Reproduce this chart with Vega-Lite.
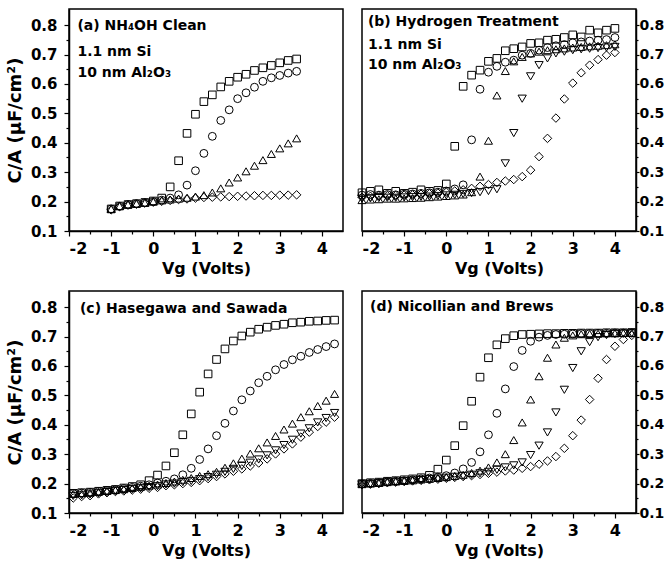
{
  "$schema": "https://vega.github.io/schema/vega-lite/v6.json",
  "padding": {"left": 5, "top": 8, "right": 0, "bottom": 0},
  "background": "white",
  "config": {
    "view": {"stroke": "black", "strokeWidth": 1.5},
    "axis": {"domainColor": "black", "domainWidth": 1.5, "tickColor": "black", "tickWidth": 1.2, "labelColor": "black", "titleColor": "black", "labelFont": "DejaVu Sans", "labelFontWeight": "bold", "labelFontSize": 16, "titleFont": "DejaVu Sans", "titleFontWeight": "bold", "titleFontSize": 16, "grid": false, "labelPadding": 4, "labelOverlap": false, "tickCount": 100},
    "text": {"font": "DejaVu Sans", "fontWeight": "bold", "fontSize": 14, "color": "black"}
  },
  "datasets": {
    "notes": [
      {"p": "a", "x": -1.8, "y": 0.797, "t": "(a)  NH₄OH Clean"},
      {"p": "a", "x": -1.8, "y": 0.708, "t": "1.1 nm Si"},
      {"p": "a", "x": -1.8, "y": 0.636, "t": "10 nm Al₂O₃"},
      {"p": "b", "x": -1.86, "y": 0.81, "t": "(b)  Hydrogen Treatment"},
      {"p": "b", "x": -1.86, "y": 0.732, "t": "1.1 nm Si"},
      {"p": "b", "x": -1.86, "y": 0.663, "t": "10 nm Al₂O₃"},
      {"p": "c", "x": -1.74, "y": 0.795, "t": "(c) Hasegawa and Sawada"},
      {"p": "d", "x": -1.81, "y": 0.802, "t": "(d) Nicollian and Brews"}
    ],
    "a": [
      {"s":"sq","x":-1,"y":0.175},{"s":"sq","x":-0.8,"y":0.185},{"s":"sq","x":-0.6,"y":0.19},{"s":"sq","x":-0.4,"y":0.193},{"s":"sq","x":-0.2,"y":0.197},{"s":"sq","x":0,"y":0.202},{"s":"sq","x":0.2,"y":0.212},{"s":"sq","x":0.4,"y":0.25},{"s":"sq","x":0.6,"y":0.339},{"s":"sq","x":0.8,"y":0.432},{"s":"sq","x":1,"y":0.497},{"s":"sq","x":1.2,"y":0.54},{"s":"sq","x":1.4,"y":0.563},{"s":"sq","x":1.6,"y":0.59},{"s":"sq","x":1.8,"y":0.609},{"s":"sq","x":2,"y":0.623},{"s":"sq","x":2.2,"y":0.633},{"s":"sq","x":2.4,"y":0.646},{"s":"sq","x":2.6,"y":0.655},{"s":"sq","x":2.8,"y":0.663},{"s":"sq","x":3,"y":0.672},{"s":"sq","x":3.2,"y":0.68},{"s":"sq","x":3.4,"y":0.685},
      {"s":"ci","x":-1,"y":0.175},{"s":"ci","x":-0.8,"y":0.184},{"s":"ci","x":-0.6,"y":0.19},{"s":"ci","x":-0.4,"y":0.193},{"s":"ci","x":-0.2,"y":0.196},{"s":"ci","x":0,"y":0.2},{"s":"ci","x":0.2,"y":0.205},{"s":"ci","x":0.4,"y":0.212},{"s":"ci","x":0.6,"y":0.223},{"s":"ci","x":0.8,"y":0.256},{"s":"ci","x":1,"y":0.305},{"s":"ci","x":1.2,"y":0.364},{"s":"ci","x":1.4,"y":0.422},{"s":"ci","x":1.6,"y":0.476},{"s":"ci","x":1.8,"y":0.512},{"s":"ci","x":2,"y":0.55},{"s":"ci","x":2.2,"y":0.57},{"s":"ci","x":2.4,"y":0.589},{"s":"ci","x":2.6,"y":0.609},{"s":"ci","x":2.8,"y":0.621},{"s":"ci","x":3,"y":0.629},{"s":"ci","x":3.2,"y":0.637},{"s":"ci","x":3.4,"y":0.643},
      {"s":"tu","x":-1,"y":0.175},{"s":"tu","x":-0.8,"y":0.185},{"s":"tu","x":-0.6,"y":0.19},{"s":"tu","x":-0.4,"y":0.193},{"s":"tu","x":-0.2,"y":0.196},{"s":"tu","x":0,"y":0.2},{"s":"tu","x":0.2,"y":0.204},{"s":"tu","x":0.4,"y":0.207},{"s":"tu","x":0.6,"y":0.21},{"s":"tu","x":0.8,"y":0.213},{"s":"tu","x":1,"y":0.217},{"s":"tu","x":1.2,"y":0.222},{"s":"tu","x":1.4,"y":0.231},{"s":"tu","x":1.6,"y":0.245},{"s":"tu","x":1.8,"y":0.265},{"s":"tu","x":2,"y":0.282},{"s":"tu","x":2.2,"y":0.303},{"s":"tu","x":2.4,"y":0.322},{"s":"tu","x":2.6,"y":0.341},{"s":"tu","x":2.8,"y":0.362},{"s":"tu","x":3,"y":0.381},{"s":"tu","x":3.2,"y":0.398},{"s":"tu","x":3.4,"y":0.415},
      {"s":"di","x":-1,"y":0.172},{"s":"di","x":-0.8,"y":0.183},{"s":"di","x":-0.6,"y":0.188},{"s":"di","x":-0.4,"y":0.191},{"s":"di","x":-0.2,"y":0.195},{"s":"di","x":0,"y":0.198},{"s":"di","x":0.2,"y":0.201},{"s":"di","x":0.4,"y":0.204},{"s":"di","x":0.6,"y":0.207},{"s":"di","x":0.8,"y":0.209},{"s":"di","x":1,"y":0.212},{"s":"di","x":1.2,"y":0.214},{"s":"di","x":1.4,"y":0.215},{"s":"di","x":1.6,"y":0.216},{"s":"di","x":1.8,"y":0.217},{"s":"di","x":2,"y":0.218},{"s":"di","x":2.2,"y":0.219},{"s":"di","x":2.4,"y":0.22},{"s":"di","x":2.6,"y":0.221},{"s":"di","x":2.8,"y":0.221},{"s":"di","x":3,"y":0.222},{"s":"di","x":3.2,"y":0.222},{"s":"di","x":3.4,"y":0.223}
    ],
    "b": [
      {"s":"sq","x":-2,"y":0.23},{"s":"sq","x":-1.8,"y":0.235},{"s":"sq","x":-1.6,"y":0.24},{"s":"sq","x":-1.4,"y":0.228},{"s":"sq","x":-1.2,"y":0.235},{"s":"sq","x":-1,"y":0.228},{"s":"sq","x":-0.8,"y":0.232},{"s":"sq","x":-0.6,"y":0.24},{"s":"sq","x":-0.4,"y":0.235},{"s":"sq","x":-0.2,"y":0.238},{"s":"sq","x":0,"y":0.26},{"s":"sq","x":0.2,"y":0.388},{"s":"sq","x":0.4,"y":0.592},{"s":"sq","x":0.6,"y":0.63},{"s":"sq","x":0.8,"y":0.647},{"s":"sq","x":1,"y":0.677},{"s":"sq","x":1.2,"y":0.687},{"s":"sq","x":1.4,"y":0.713},{"s":"sq","x":1.6,"y":0.72},{"s":"sq","x":1.8,"y":0.726},{"s":"sq","x":2,"y":0.738},{"s":"sq","x":2.2,"y":0.74},{"s":"sq","x":2.4,"y":0.749},{"s":"sq","x":2.6,"y":0.752},{"s":"sq","x":2.8,"y":0.758},{"s":"sq","x":3,"y":0.767},{"s":"sq","x":3.2,"y":0.76},{"s":"sq","x":3.4,"y":0.783},{"s":"sq","x":3.6,"y":0.774},{"s":"sq","x":3.8,"y":0.783},{"s":"sq","x":4,"y":0.789},
      {"s":"ci","x":-2,"y":0.222},{"s":"ci","x":-1.8,"y":0.224},{"s":"ci","x":-1.6,"y":0.222},{"s":"ci","x":-1.4,"y":0.224},{"s":"ci","x":-1.2,"y":0.223},{"s":"ci","x":-1,"y":0.225},{"s":"ci","x":-0.8,"y":0.226},{"s":"ci","x":-0.6,"y":0.228},{"s":"ci","x":-0.4,"y":0.23},{"s":"ci","x":-0.2,"y":0.232},{"s":"ci","x":0,"y":0.236},{"s":"ci","x":0.2,"y":0.243},{"s":"ci","x":0.4,"y":0.257},{"s":"ci","x":0.6,"y":0.41},{"s":"ci","x":0.8,"y":0.582},{"s":"ci","x":1,"y":0.64},{"s":"ci","x":1.2,"y":0.66},{"s":"ci","x":1.4,"y":0.674},{"s":"ci","x":1.6,"y":0.681},{"s":"ci","x":1.8,"y":0.698},{"s":"ci","x":2,"y":0.704},{"s":"ci","x":2.2,"y":0.715},{"s":"ci","x":2.4,"y":0.724},{"s":"ci","x":2.6,"y":0.73},{"s":"ci","x":2.8,"y":0.734},{"s":"ci","x":3,"y":0.74},{"s":"ci","x":3.2,"y":0.743},{"s":"ci","x":3.4,"y":0.746},{"s":"ci","x":3.6,"y":0.749},{"s":"ci","x":3.8,"y":0.751},{"s":"ci","x":4,"y":0.758},
      {"s":"tu","x":-2,"y":0.205},{"s":"tu","x":-1.8,"y":0.207},{"s":"tu","x":-1.6,"y":0.208},{"s":"tu","x":-1.4,"y":0.21},{"s":"tu","x":-1.2,"y":0.21},{"s":"tu","x":-1,"y":0.211},{"s":"tu","x":-0.8,"y":0.212},{"s":"tu","x":-0.6,"y":0.213},{"s":"tu","x":-0.4,"y":0.215},{"s":"tu","x":-0.2,"y":0.217},{"s":"tu","x":0,"y":0.219},{"s":"tu","x":0.2,"y":0.221},{"s":"tu","x":0.4,"y":0.224},{"s":"tu","x":0.6,"y":0.232},{"s":"tu","x":0.8,"y":0.285},{"s":"tu","x":1,"y":0.407},{"s":"tu","x":1.2,"y":0.561},{"s":"tu","x":1.4,"y":0.644},{"s":"tu","x":1.6,"y":0.677},{"s":"tu","x":1.8,"y":0.692},{"s":"tu","x":2,"y":0.704},{"s":"tu","x":2.2,"y":0.71},{"s":"tu","x":2.4,"y":0.715},{"s":"tu","x":2.6,"y":0.718},{"s":"tu","x":2.8,"y":0.721},{"s":"tu","x":3,"y":0.724},{"s":"tu","x":3.2,"y":0.726},{"s":"tu","x":3.4,"y":0.728},{"s":"tu","x":3.6,"y":0.73},{"s":"tu","x":3.8,"y":0.732},{"s":"tu","x":4,"y":0.735},
      {"s":"td","x":-2,"y":0.21},{"s":"td","x":-1.8,"y":0.211},{"s":"td","x":-1.6,"y":0.212},{"s":"td","x":-1.4,"y":0.213},{"s":"td","x":-1.2,"y":0.213},{"s":"td","x":-1,"y":0.214},{"s":"td","x":-0.8,"y":0.215},{"s":"td","x":-0.6,"y":0.216},{"s":"td","x":-0.4,"y":0.217},{"s":"td","x":-0.2,"y":0.219},{"s":"td","x":0,"y":0.221},{"s":"td","x":0.2,"y":0.223},{"s":"td","x":0.4,"y":0.226},{"s":"td","x":0.6,"y":0.229},{"s":"td","x":0.8,"y":0.232},{"s":"td","x":1,"y":0.236},{"s":"td","x":1.2,"y":0.242},{"s":"td","x":1.4,"y":0.33},{"s":"td","x":1.6,"y":0.433},{"s":"td","x":1.8,"y":0.55},{"s":"td","x":2,"y":0.626},{"s":"td","x":2.2,"y":0.664},{"s":"td","x":2.4,"y":0.687},{"s":"td","x":2.6,"y":0.704},{"s":"td","x":2.8,"y":0.71},{"s":"td","x":3,"y":0.715},{"s":"td","x":3.2,"y":0.718},{"s":"td","x":3.4,"y":0.72},{"s":"td","x":3.6,"y":0.722},{"s":"td","x":3.8,"y":0.724},{"s":"td","x":4,"y":0.726},
      {"s":"di","x":-2,"y":0.215},{"s":"di","x":-1.8,"y":0.218},{"s":"di","x":-1.6,"y":0.22},{"s":"di","x":-1.4,"y":0.22},{"s":"di","x":-1.2,"y":0.221},{"s":"di","x":-1,"y":0.222},{"s":"di","x":-0.8,"y":0.223},{"s":"di","x":-0.6,"y":0.225},{"s":"di","x":-0.4,"y":0.227},{"s":"di","x":-0.2,"y":0.229},{"s":"di","x":0,"y":0.232},{"s":"di","x":0.2,"y":0.236},{"s":"di","x":0.4,"y":0.24},{"s":"di","x":0.6,"y":0.245},{"s":"di","x":0.8,"y":0.252},{"s":"di","x":1,"y":0.258},{"s":"di","x":1.2,"y":0.265},{"s":"di","x":1.4,"y":0.27},{"s":"di","x":1.6,"y":0.275},{"s":"di","x":1.8,"y":0.285},{"s":"di","x":2,"y":0.307},{"s":"di","x":2.2,"y":0.353},{"s":"di","x":2.4,"y":0.415},{"s":"di","x":2.6,"y":0.484},{"s":"di","x":2.8,"y":0.549},{"s":"di","x":3,"y":0.603},{"s":"di","x":3.2,"y":0.638},{"s":"di","x":3.4,"y":0.664},{"s":"di","x":3.6,"y":0.683},{"s":"di","x":3.8,"y":0.698},{"s":"di","x":4,"y":0.707}
    ],
    "c": [
      {"s":"sq","x":-1.9,"y":0.167},{"s":"sq","x":-1.7,"y":0.169},{"s":"sq","x":-1.5,"y":0.171},{"s":"sq","x":-1.3,"y":0.174},{"s":"sq","x":-1.1,"y":0.177},{"s":"sq","x":-0.9,"y":0.18},{"s":"sq","x":-0.7,"y":0.185},{"s":"sq","x":-0.5,"y":0.19},{"s":"sq","x":-0.3,"y":0.196},{"s":"sq","x":-0.1,"y":0.21},{"s":"sq","x":0.1,"y":0.229},{"s":"sq","x":0.3,"y":0.26},{"s":"sq","x":0.5,"y":0.305},{"s":"sq","x":0.7,"y":0.366},{"s":"sq","x":0.9,"y":0.437},{"s":"sq","x":1.1,"y":0.511},{"s":"sq","x":1.3,"y":0.573},{"s":"sq","x":1.5,"y":0.622},{"s":"sq","x":1.7,"y":0.658},{"s":"sq","x":1.9,"y":0.685},{"s":"sq","x":2.1,"y":0.702},{"s":"sq","x":2.3,"y":0.715},{"s":"sq","x":2.5,"y":0.725},{"s":"sq","x":2.7,"y":0.732},{"s":"sq","x":2.9,"y":0.738},{"s":"sq","x":3.1,"y":0.742},{"s":"sq","x":3.3,"y":0.747},{"s":"sq","x":3.5,"y":0.749},{"s":"sq","x":3.7,"y":0.752},{"s":"sq","x":3.9,"y":0.753},{"s":"sq","x":4.1,"y":0.755},{"s":"sq","x":4.3,"y":0.756},
      {"s":"ci","x":-1.9,"y":0.166},{"s":"ci","x":-1.7,"y":0.168},{"s":"ci","x":-1.5,"y":0.17},{"s":"ci","x":-1.3,"y":0.173},{"s":"ci","x":-1.1,"y":0.176},{"s":"ci","x":-0.9,"y":0.179},{"s":"ci","x":-0.7,"y":0.183},{"s":"ci","x":-0.5,"y":0.187},{"s":"ci","x":-0.3,"y":0.191},{"s":"ci","x":-0.1,"y":0.196},{"s":"ci","x":0.1,"y":0.202},{"s":"ci","x":0.3,"y":0.208},{"s":"ci","x":0.5,"y":0.216},{"s":"ci","x":0.7,"y":0.23},{"s":"ci","x":0.9,"y":0.252},{"s":"ci","x":1.1,"y":0.282},{"s":"ci","x":1.3,"y":0.318},{"s":"ci","x":1.5,"y":0.363},{"s":"ci","x":1.7,"y":0.405},{"s":"ci","x":1.9,"y":0.447},{"s":"ci","x":2.1,"y":0.485},{"s":"ci","x":2.3,"y":0.515},{"s":"ci","x":2.5,"y":0.543},{"s":"ci","x":2.7,"y":0.565},{"s":"ci","x":2.9,"y":0.587},{"s":"ci","x":3.1,"y":0.605},{"s":"ci","x":3.3,"y":0.621},{"s":"ci","x":3.5,"y":0.633},{"s":"ci","x":3.7,"y":0.646},{"s":"ci","x":3.9,"y":0.656},{"s":"ci","x":4.1,"y":0.666},{"s":"ci","x":4.3,"y":0.675},
      {"s":"tu","x":-1.9,"y":0.165},{"s":"tu","x":-1.7,"y":0.167},{"s":"tu","x":-1.5,"y":0.169},{"s":"tu","x":-1.3,"y":0.172},{"s":"tu","x":-1.1,"y":0.175},{"s":"tu","x":-0.9,"y":0.178},{"s":"tu","x":-0.7,"y":0.181},{"s":"tu","x":-0.5,"y":0.185},{"s":"tu","x":-0.3,"y":0.189},{"s":"tu","x":-0.1,"y":0.193},{"s":"tu","x":0.1,"y":0.197},{"s":"tu","x":0.3,"y":0.202},{"s":"tu","x":0.5,"y":0.207},{"s":"tu","x":0.7,"y":0.213},{"s":"tu","x":0.9,"y":0.219},{"s":"tu","x":1.1,"y":0.226},{"s":"tu","x":1.3,"y":0.232},{"s":"tu","x":1.5,"y":0.24},{"s":"tu","x":1.7,"y":0.254},{"s":"tu","x":1.9,"y":0.269},{"s":"tu","x":2.1,"y":0.285},{"s":"tu","x":2.3,"y":0.302},{"s":"tu","x":2.5,"y":0.32},{"s":"tu","x":2.7,"y":0.34},{"s":"tu","x":2.9,"y":0.362},{"s":"tu","x":3.1,"y":0.384},{"s":"tu","x":3.3,"y":0.404},{"s":"tu","x":3.5,"y":0.426},{"s":"tu","x":3.7,"y":0.446},{"s":"tu","x":3.9,"y":0.464},{"s":"tu","x":4.1,"y":0.482},{"s":"tu","x":4.3,"y":0.505},
      {"s":"td","x":-1.9,"y":0.158},{"s":"td","x":-1.7,"y":0.16},{"s":"td","x":-1.5,"y":0.163},{"s":"td","x":-1.3,"y":0.167},{"s":"td","x":-1.1,"y":0.171},{"s":"td","x":-0.9,"y":0.175},{"s":"td","x":-0.7,"y":0.178},{"s":"td","x":-0.5,"y":0.181},{"s":"td","x":-0.3,"y":0.184},{"s":"td","x":-0.1,"y":0.188},{"s":"td","x":0.1,"y":0.191},{"s":"td","x":0.3,"y":0.197},{"s":"td","x":0.5,"y":0.2},{"s":"td","x":0.7,"y":0.205},{"s":"td","x":0.9,"y":0.209},{"s":"td","x":1.1,"y":0.215},{"s":"td","x":1.3,"y":0.222},{"s":"td","x":1.5,"y":0.23},{"s":"td","x":1.7,"y":0.24},{"s":"td","x":1.9,"y":0.25},{"s":"td","x":2.1,"y":0.26},{"s":"td","x":2.3,"y":0.271},{"s":"td","x":2.5,"y":0.282},{"s":"td","x":2.7,"y":0.296},{"s":"td","x":2.9,"y":0.313},{"s":"td","x":3.1,"y":0.331},{"s":"td","x":3.3,"y":0.349},{"s":"td","x":3.5,"y":0.37},{"s":"td","x":3.7,"y":0.388},{"s":"td","x":3.9,"y":0.408},{"s":"td","x":4.1,"y":0.423},{"s":"td","x":4.3,"y":0.44},
      {"s":"di","x":-1.9,"y":0.151},{"s":"di","x":-1.7,"y":0.156},{"s":"di","x":-1.5,"y":0.159},{"s":"di","x":-1.3,"y":0.165},{"s":"di","x":-1.1,"y":0.169},{"s":"di","x":-0.9,"y":0.173},{"s":"di","x":-0.7,"y":0.175},{"s":"di","x":-0.5,"y":0.178},{"s":"di","x":-0.3,"y":0.181},{"s":"di","x":-0.1,"y":0.184},{"s":"di","x":0.1,"y":0.187},{"s":"di","x":0.3,"y":0.193},{"s":"di","x":0.5,"y":0.196},{"s":"di","x":0.7,"y":0.2},{"s":"di","x":0.9,"y":0.204},{"s":"di","x":1.1,"y":0.21},{"s":"di","x":1.3,"y":0.217},{"s":"di","x":1.5,"y":0.224},{"s":"di","x":1.7,"y":0.233},{"s":"di","x":1.9,"y":0.242},{"s":"di","x":2.1,"y":0.25},{"s":"di","x":2.3,"y":0.26},{"s":"di","x":2.5,"y":0.27},{"s":"di","x":2.7,"y":0.284},{"s":"di","x":2.9,"y":0.301},{"s":"di","x":3.1,"y":0.318},{"s":"di","x":3.3,"y":0.335},{"s":"di","x":3.5,"y":0.358},{"s":"di","x":3.7,"y":0.375},{"s":"di","x":3.9,"y":0.394},{"s":"di","x":4.1,"y":0.409},{"s":"di","x":4.3,"y":0.426}
    ],
    "d": [
      {"s":"sq","x":-2,"y":0.2},{"s":"sq","x":-1.8,"y":0.203},{"s":"sq","x":-1.6,"y":0.205},{"s":"sq","x":-1.4,"y":0.208},{"s":"sq","x":-1.2,"y":0.21},{"s":"sq","x":-1,"y":0.213},{"s":"sq","x":-0.8,"y":0.216},{"s":"sq","x":-0.6,"y":0.22},{"s":"sq","x":-0.4,"y":0.228},{"s":"sq","x":-0.2,"y":0.249},{"s":"sq","x":0,"y":0.28},{"s":"sq","x":0.2,"y":0.329},{"s":"sq","x":0.4,"y":0.397},{"s":"sq","x":0.6,"y":0.48},{"s":"sq","x":0.8,"y":0.562},{"s":"sq","x":1,"y":0.628},{"s":"sq","x":1.2,"y":0.672},{"s":"sq","x":1.4,"y":0.693},{"s":"sq","x":1.6,"y":0.703},{"s":"sq","x":1.8,"y":0.707},{"s":"sq","x":2,"y":0.708},{"s":"sq","x":2.2,"y":0.709},{"s":"sq","x":2.4,"y":0.71},{"s":"sq","x":2.6,"y":0.71},{"s":"sq","x":2.8,"y":0.711},{"s":"sq","x":3,"y":0.711},{"s":"sq","x":3.2,"y":0.712},{"s":"sq","x":3.4,"y":0.712},{"s":"sq","x":3.6,"y":0.712},{"s":"sq","x":3.8,"y":0.713},{"s":"sq","x":4,"y":0.713},{"s":"sq","x":4.2,"y":0.713},{"s":"sq","x":4.4,"y":0.714},
      {"s":"ci","x":-2,"y":0.199},{"s":"ci","x":-1.8,"y":0.201},{"s":"ci","x":-1.6,"y":0.203},{"s":"ci","x":-1.4,"y":0.206},{"s":"ci","x":-1.2,"y":0.208},{"s":"ci","x":-1,"y":0.21},{"s":"ci","x":-0.8,"y":0.213},{"s":"ci","x":-0.6,"y":0.216},{"s":"ci","x":-0.4,"y":0.219},{"s":"ci","x":-0.2,"y":0.222},{"s":"ci","x":0,"y":0.227},{"s":"ci","x":0.2,"y":0.236},{"s":"ci","x":0.4,"y":0.25},{"s":"ci","x":0.6,"y":0.272},{"s":"ci","x":0.8,"y":0.308},{"s":"ci","x":1,"y":0.366},{"s":"ci","x":1.2,"y":0.439},{"s":"ci","x":1.4,"y":0.522},{"s":"ci","x":1.6,"y":0.598},{"s":"ci","x":1.8,"y":0.653},{"s":"ci","x":2,"y":0.684},{"s":"ci","x":2.2,"y":0.698},{"s":"ci","x":2.4,"y":0.704},{"s":"ci","x":2.6,"y":0.707},{"s":"ci","x":2.8,"y":0.708},{"s":"ci","x":3,"y":0.709},{"s":"ci","x":3.2,"y":0.71},{"s":"ci","x":3.4,"y":0.71},{"s":"ci","x":3.6,"y":0.711},{"s":"ci","x":3.8,"y":0.711},{"s":"ci","x":4,"y":0.712},{"s":"ci","x":4.2,"y":0.712},{"s":"ci","x":4.4,"y":0.712},
      {"s":"tu","x":-2,"y":0.198},{"s":"tu","x":-1.8,"y":0.2},{"s":"tu","x":-1.6,"y":0.202},{"s":"tu","x":-1.4,"y":0.205},{"s":"tu","x":-1.2,"y":0.207},{"s":"tu","x":-1,"y":0.209},{"s":"tu","x":-0.8,"y":0.211},{"s":"tu","x":-0.6,"y":0.214},{"s":"tu","x":-0.4,"y":0.216},{"s":"tu","x":-0.2,"y":0.219},{"s":"tu","x":0,"y":0.222},{"s":"tu","x":0.2,"y":0.226},{"s":"tu","x":0.4,"y":0.23},{"s":"tu","x":0.6,"y":0.236},{"s":"tu","x":0.8,"y":0.244},{"s":"tu","x":1,"y":0.255},{"s":"tu","x":1.2,"y":0.272},{"s":"tu","x":1.4,"y":0.3},{"s":"tu","x":1.6,"y":0.348},{"s":"tu","x":1.8,"y":0.408},{"s":"tu","x":2,"y":0.486},{"s":"tu","x":2.2,"y":0.565},{"s":"tu","x":2.4,"y":0.628},{"s":"tu","x":2.6,"y":0.673},{"s":"tu","x":2.8,"y":0.696},{"s":"tu","x":3,"y":0.704},{"s":"tu","x":3.2,"y":0.708},{"s":"tu","x":3.4,"y":0.709},{"s":"tu","x":3.6,"y":0.71},{"s":"tu","x":3.8,"y":0.711},{"s":"tu","x":4,"y":0.711},{"s":"tu","x":4.2,"y":0.712},{"s":"tu","x":4.4,"y":0.712},
      {"s":"td","x":-2,"y":0.197},{"s":"td","x":-1.8,"y":0.199},{"s":"td","x":-1.6,"y":0.201},{"s":"td","x":-1.4,"y":0.204},{"s":"td","x":-1.2,"y":0.206},{"s":"td","x":-1,"y":0.208},{"s":"td","x":-0.8,"y":0.21},{"s":"td","x":-0.6,"y":0.212},{"s":"td","x":-0.4,"y":0.215},{"s":"td","x":-0.2,"y":0.217},{"s":"td","x":0,"y":0.22},{"s":"td","x":0.2,"y":0.223},{"s":"td","x":0.4,"y":0.226},{"s":"td","x":0.6,"y":0.23},{"s":"td","x":0.8,"y":0.235},{"s":"td","x":1,"y":0.24},{"s":"td","x":1.2,"y":0.247},{"s":"td","x":1.4,"y":0.255},{"s":"td","x":1.6,"y":0.262},{"s":"td","x":1.8,"y":0.272},{"s":"td","x":2,"y":0.297},{"s":"td","x":2.2,"y":0.329},{"s":"td","x":2.4,"y":0.374},{"s":"td","x":2.6,"y":0.442},{"s":"td","x":2.8,"y":0.519},{"s":"td","x":3,"y":0.593},{"s":"td","x":3.2,"y":0.65},{"s":"td","x":3.4,"y":0.681},{"s":"td","x":3.6,"y":0.698},{"s":"td","x":3.8,"y":0.705},{"s":"td","x":4,"y":0.709},{"s":"td","x":4.2,"y":0.71},{"s":"td","x":4.4,"y":0.711},
      {"s":"di","x":-2,"y":0.196},{"s":"di","x":-1.8,"y":0.198},{"s":"di","x":-1.6,"y":0.2},{"s":"di","x":-1.4,"y":0.203},{"s":"di","x":-1.2,"y":0.205},{"s":"di","x":-1,"y":0.207},{"s":"di","x":-0.8,"y":0.209},{"s":"di","x":-0.6,"y":0.211},{"s":"di","x":-0.4,"y":0.213},{"s":"di","x":-0.2,"y":0.215},{"s":"di","x":0,"y":0.218},{"s":"di","x":0.2,"y":0.221},{"s":"di","x":0.4,"y":0.224},{"s":"di","x":0.6,"y":0.227},{"s":"di","x":0.8,"y":0.231},{"s":"di","x":1,"y":0.235},{"s":"di","x":1.2,"y":0.239},{"s":"di","x":1.4,"y":0.243},{"s":"di","x":1.6,"y":0.246},{"s":"di","x":1.8,"y":0.252},{"s":"di","x":2,"y":0.258},{"s":"di","x":2.2,"y":0.266},{"s":"di","x":2.4,"y":0.277},{"s":"di","x":2.6,"y":0.292},{"s":"di","x":2.8,"y":0.32},{"s":"di","x":3,"y":0.363},{"s":"di","x":3.2,"y":0.416},{"s":"di","x":3.4,"y":0.486},{"s":"di","x":3.6,"y":0.558},{"s":"di","x":3.8,"y":0.622},{"s":"di","x":4,"y":0.667},{"s":"di","x":4.2,"y":0.69},{"s":"di","x":4.4,"y":0.704}
    ]
  },
  "vconcat": [
    {"hconcat": [
      {"width": 274, "height": 222, "layer": [
        {"data": {"name": "a"}, "mark": {"type": "point", "filled": false, "color": "black", "strokeWidth": 1, "opacity": 1},
         "encoding": {
           "x": {"field": "x", "type": "quantitative", "title": "Vg (Volts)", "scale": {"domain": [-2, 4.5], "nice": false, "zero": false}, "axis": {"tickCount": 100, "labelOverlap": false, "values": [-2,-1.5,-1,-0.5,0,0.5,1,1.5,2,2.5,3,3.5,4], "labelExpr": "datum.value % 1 == 0 ? '' + datum.value : ''", "tickSize": {"condition": {"test": "datum.value % 1 != 0", "value": 3}, "value": 5}}},
           "y": {"field": "y", "type": "quantitative", "title": "C/A (μF/cm²)", "scale": {"domain": [0.1, 0.855], "nice": false, "zero": false}, "axis": {"tickCount": 100, "labelOverlap": false, "titleFontSize": 18, "titlePadding": 6, "labelPadding": 7, "labelFontSize": 15, "values": [0.1,0.15,0.2,0.25,0.3,0.35,0.4,0.45,0.5,0.55,0.6,0.65,0.7,0.75,0.8], "labelExpr": "round(datum.value*100) % 10 == 0 ? format(datum.value, '.1f') : ''", "tickSize": {"condition": {"test": "round(datum.value*100) % 10 != 0", "value": 3}, "value": 5}}},
           "shape": {"field": "s", "type": "nominal", "scale": {"domain": ["sq","ci","tu","td","di"], "range": ["square","circle","triangle-up","triangle-down","diamond"]}, "legend": null},
           "size": {"field": "s", "type": "nominal", "scale": {"domain": ["sq","ci","tu","td","di"], "range": [58, 72, 85, 85, 120]}, "legend": null}
         }},
        {"data": {"name": "notes"}, "transform": [{"filter": "datum.p == 'a'"}], "mark": {"type": "text", "align": "left", "baseline": "middle"},
         "encoding": {"x": {"field": "x", "type": "quantitative", "title": "Vg (Volts)"}, "y": {"field": "y", "type": "quantitative", "title": "C/A (μF/cm²)"}, "text": {"field": "t"}}}
      ]},
      {"width": 274, "height": 222, "layer": [
        {"data": {"name": "b"}, "mark": {"type": "point", "filled": false, "color": "black", "strokeWidth": 1, "opacity": 1},
         "encoding": {
           "x": {"field": "x", "type": "quantitative", "title": "Vg (Volts)", "scale": {"domain": [-2, 4.5], "nice": false, "zero": false}, "axis": {"tickCount": 100, "labelOverlap": false, "values": [-2,-1.5,-1,-0.5,0,0.5,1,1.5,2,2.5,3,3.5,4], "labelExpr": "datum.value % 1 == 0 ? '' + datum.value : ''", "tickSize": {"condition": {"test": "datum.value % 1 != 0", "value": 3}, "value": 5}}},
           "y": {"field": "y", "type": "quantitative", "title": null, "scale": {"domain": [0.1, 0.855], "nice": false, "zero": false}, "axis": {"orient": "right", "tickCount": 100, "labelOverlap": false, "labelPadding": 0, "labelFontSize": 14, "values": [0.1,0.15,0.2,0.25,0.3,0.35,0.4,0.45,0.5,0.55,0.6,0.65,0.7,0.75,0.8], "labelExpr": "round(datum.value*100) % 10 == 0 ? format(datum.value, '.1f') : ''", "tickSize": {"condition": {"test": "round(datum.value*100) % 10 != 0", "value": 2}, "value": 3}}},
           "shape": {"field": "s", "type": "nominal", "scale": {"domain": ["sq","ci","tu","td","di"], "range": ["square","circle","triangle-up","triangle-down","diamond"]}, "legend": null},
           "size": {"field": "s", "type": "nominal", "scale": {"domain": ["sq","ci","tu","td","di"], "range": [58, 72, 85, 85, 120]}, "legend": null}
         }},
        {"data": {"name": "notes"}, "transform": [{"filter": "datum.p == 'b'"}], "mark": {"type": "text", "align": "left", "baseline": "middle"},
         "encoding": {"x": {"field": "x", "type": "quantitative", "title": "Vg (Volts)"}, "y": {"field": "y", "type": "quantitative", "title": null}, "text": {"field": "t"}}}
      ]}
    ], "spacing": 11},
    {"hconcat": [
      {"width": 274, "height": 222, "layer": [
        {"data": {"name": "c"}, "mark": {"type": "point", "filled": false, "color": "black", "strokeWidth": 1, "opacity": 1},
         "encoding": {
           "x": {"field": "x", "type": "quantitative", "title": "Vg (Volts)", "scale": {"domain": [-2, 4.5], "nice": false, "zero": false}, "axis": {"tickCount": 100, "labelOverlap": false, "values": [-2,-1.5,-1,-0.5,0,0.5,1,1.5,2,2.5,3,3.5,4], "labelExpr": "datum.value % 1 == 0 ? '' + datum.value : ''", "tickSize": {"condition": {"test": "datum.value % 1 != 0", "value": 3}, "value": 5}}},
           "y": {"field": "y", "type": "quantitative", "title": "C/A (μF/cm²)", "scale": {"domain": [0.1, 0.855], "nice": false, "zero": false}, "axis": {"tickCount": 100, "labelOverlap": false, "titleFontSize": 18, "titlePadding": 6, "labelPadding": 7, "labelFontSize": 15, "values": [0.1,0.15,0.2,0.25,0.3,0.35,0.4,0.45,0.5,0.55,0.6,0.65,0.7,0.75,0.8], "labelExpr": "round(datum.value*100) % 10 == 0 ? format(datum.value, '.1f') : ''", "tickSize": {"condition": {"test": "round(datum.value*100) % 10 != 0", "value": 3}, "value": 5}}},
           "shape": {"field": "s", "type": "nominal", "scale": {"domain": ["sq","ci","tu","td","di"], "range": ["square","circle","triangle-up","triangle-down","diamond"]}, "legend": null},
           "size": {"field": "s", "type": "nominal", "scale": {"domain": ["sq","ci","tu","td","di"], "range": [58, 72, 85, 85, 120]}, "legend": null}
         }},
        {"data": {"name": "notes"}, "transform": [{"filter": "datum.p == 'c'"}], "mark": {"type": "text", "align": "left", "baseline": "middle"},
         "encoding": {"x": {"field": "x", "type": "quantitative", "title": "Vg (Volts)"}, "y": {"field": "y", "type": "quantitative", "title": "C/A (μF/cm²)"}, "text": {"field": "t"}}}
      ]},
      {"width": 274, "height": 222, "layer": [
        {"data": {"name": "d"}, "mark": {"type": "point", "filled": false, "color": "black", "strokeWidth": 1, "opacity": 1},
         "encoding": {
           "x": {"field": "x", "type": "quantitative", "title": "Vg (Volts)", "scale": {"domain": [-2, 4.5], "nice": false, "zero": false}, "axis": {"tickCount": 100, "labelOverlap": false, "values": [-2,-1.5,-1,-0.5,0,0.5,1,1.5,2,2.5,3,3.5,4], "labelExpr": "datum.value % 1 == 0 ? '' + datum.value : ''", "tickSize": {"condition": {"test": "datum.value % 1 != 0", "value": 3}, "value": 5}}},
           "y": {"field": "y", "type": "quantitative", "title": null, "scale": {"domain": [0.1, 0.855], "nice": false, "zero": false}, "axis": {"orient": "right", "tickCount": 100, "labelOverlap": false, "labelPadding": 0, "labelFontSize": 14, "values": [0.1,0.15,0.2,0.25,0.3,0.35,0.4,0.45,0.5,0.55,0.6,0.65,0.7,0.75,0.8], "labelExpr": "round(datum.value*100) % 10 == 0 ? format(datum.value, '.1f') : ''", "tickSize": {"condition": {"test": "round(datum.value*100) % 10 != 0", "value": 2}, "value": 3}}},
           "shape": {"field": "s", "type": "nominal", "scale": {"domain": ["sq","ci","tu","td","di"], "range": ["square","circle","triangle-up","triangle-down","diamond"]}, "legend": null},
           "size": {"field": "s", "type": "nominal", "scale": {"domain": ["sq","ci","tu","td","di"], "range": [58, 72, 85, 85, 120]}, "legend": null}
         }},
        {"data": {"name": "notes"}, "transform": [{"filter": "datum.p == 'd'"}], "mark": {"type": "text", "align": "left", "baseline": "middle"},
         "encoding": {"x": {"field": "x", "type": "quantitative", "title": "Vg (Volts)"}, "y": {"field": "y", "type": "quantitative", "title": null}, "text": {"field": "t"}}}
      ]}
    ], "spacing": 11}
  ],
  "spacing": 13
}
